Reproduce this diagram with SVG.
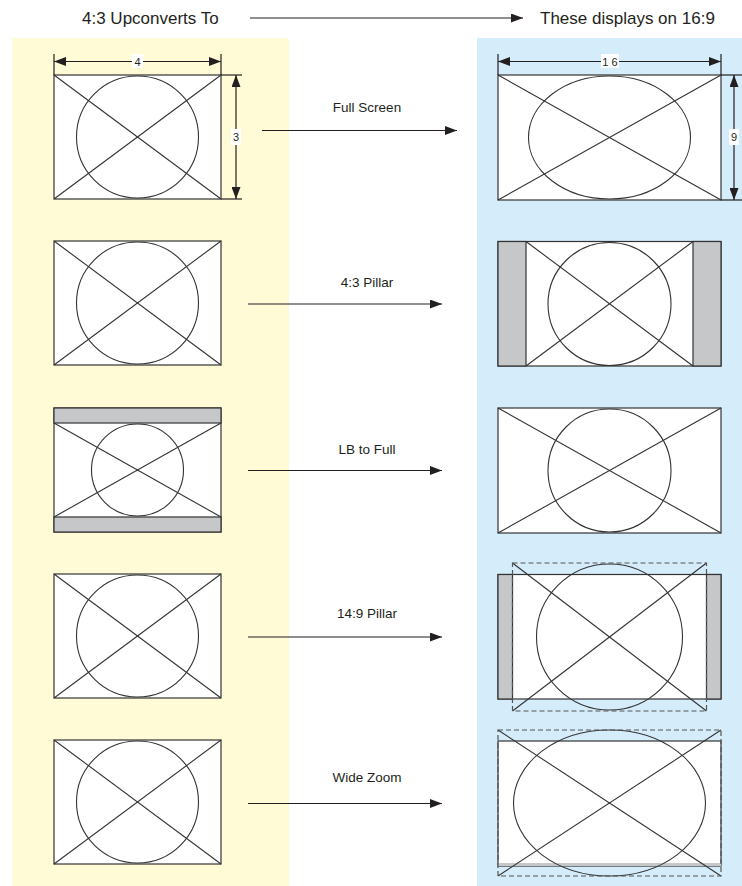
<svg xmlns="http://www.w3.org/2000/svg" width="742" height="886" viewBox="0 0 742 886">
<defs>
<style>
.t{font-family:"Liberation Sans",Arial,sans-serif;fill:#231f20}
.hdr{font-size:17px}
.lbl{font-size:13.5px;text-anchor:middle}
.dim{font-size:11px;text-anchor:middle}
.scr{fill:#ffffff;stroke:#333333;stroke-width:1.2}
.ln{fill:none;stroke:#333333;stroke-width:1.1}
.bar{fill:#c6c7c9;stroke:#333333;stroke-width:1.2}
.dash{fill:none;stroke:#555555;stroke-width:1.2;stroke-dasharray:5 3}
.con{fill:none;stroke:#231f20;stroke-width:1.2}
.dl{fill:none;stroke:#231f20;stroke-width:1.2}
</style>
<marker id="ah" viewBox="0 0 12 9" refX="12" refY="4.5" markerWidth="12" markerHeight="9" markerUnits="userSpaceOnUse" orient="auto">
<path d="M0,0 L12,4.5 L0,9 Z" fill="#231f20"/>
</marker>
<marker id="as" viewBox="0 0 12 9" refX="0" refY="4.5" markerWidth="12" markerHeight="9" markerUnits="userSpaceOnUse" orient="auto">
<path d="M12,0 L0,4.5 L12,9 Z" fill="#231f20"/>
</marker>
</defs>
<rect width="742" height="886" fill="#ffffff"/>
<g id="panels">
<rect x="12" y="38" width="277" height="848" fill="#fffbd7"/>
<rect x="477" y="38" width="265" height="848" fill="#d5ecfa"/>
</g>
<g id="header">
<text class="t hdr" x="82" y="24">4:3 Upconverts To</text>
<text class="t hdr" x="540" y="24">These displays on 16:9</text>
</g>
<g id="connectors">
<line class="con" x1="250" y1="18" x2="523" y2="18" marker-end="url(#ah)"/>
<line class="con" x1="262" y1="130.5" x2="457" y2="130.5" marker-end="url(#ah)"/>
<line class="con" x1="248" y1="304" x2="442" y2="304" marker-end="url(#ah)"/>
<line class="con" x1="248" y1="470.5" x2="442" y2="470.5" marker-end="url(#ah)"/>
<line class="con" x1="248" y1="637" x2="442" y2="637" marker-end="url(#ah)"/>
<line class="con" x1="248" y1="803.5" x2="442" y2="803.5" marker-end="url(#ah)"/>
<text class="t lbl" x="367" y="112">Full Screen</text>
<text class="t lbl" x="367" y="287">4:3 Pillar</text>
<text class="t lbl" x="367" y="454">LB to Full</text>
<text class="t lbl" x="367" y="618">14:9 Pillar</text>
<text class="t lbl" x="367" y="782">Wide Zoom</text>
</g>
<g id="src-full">
<rect class="scr" x="54" y="75" width="167" height="124"/>
<circle class="ln" cx="137.5" cy="137" r="61"/>
<line class="ln" x1="54" y1="75" x2="221" y2="199"/>
<line class="ln" x1="221" y1="75" x2="54" y2="199"/>
<line class="dl" x1="54" y1="54" x2="54" y2="75"/>
<line class="dl" x1="221" y1="54" x2="221" y2="75"/>
<line class="dl" x1="54" y1="61.5" x2="221" y2="61.5" marker-start="url(#as)" marker-end="url(#ah)"/>
<rect x="132" y="54" width="11" height="14" fill="#ffffff"/>
<text class="t dim" x="137.5" y="65.5">4</text>
<line class="dl" x1="221" y1="75" x2="242" y2="75"/>
<line class="dl" x1="221" y1="199" x2="242" y2="199"/>
<line class="dl" x1="236" y1="75" x2="236" y2="199" marker-start="url(#as)" marker-end="url(#ah)"/>
<rect x="231" y="129" width="10" height="16" fill="#ffffff"/>
<text class="t dim" x="236" y="141">3</text>
</g>
<g id="dst-full">
<rect class="scr" x="498" y="75" width="223" height="125"/>
<ellipse class="ln" cx="609.5" cy="137.5" rx="81" ry="61.5"/>
<line class="ln" x1="498" y1="75" x2="721" y2="200"/>
<line class="ln" x1="721" y1="75" x2="498" y2="200"/>
<line class="dl" x1="498" y1="54" x2="498" y2="75"/>
<line class="dl" x1="721" y1="54" x2="721" y2="75"/>
<line class="dl" x1="498" y1="61.5" x2="721" y2="61.5" marker-start="url(#as)" marker-end="url(#ah)"/>
<rect x="601" y="54" width="18" height="14" fill="#ffffff"/>
<text class="t dim" x="610" y="65.5">1 6</text>
<line class="dl" x1="721" y1="75" x2="742" y2="75"/>
<line class="dl" x1="721" y1="200" x2="742" y2="200"/>
<line class="dl" x1="734" y1="75" x2="734" y2="200" marker-start="url(#as)" marker-end="url(#ah)"/>
<rect x="729" y="129" width="10" height="16" fill="#ffffff"/>
<text class="t dim" x="734" y="141">9</text>
</g>
<g id="src-pillar">
<rect class="scr" x="54" y="241" width="167" height="124"/>
<circle class="ln" cx="137.5" cy="303" r="61"/>
<line class="ln" x1="54" y1="241" x2="221" y2="365"/>
<line class="ln" x1="221" y1="241" x2="54" y2="365"/>
</g>
<g id="dst-pillar">
<rect class="scr" x="498" y="241.5" width="223" height="124.5"/>
<rect class="bar" x="498" y="241.5" width="28" height="124.5"/>
<rect class="bar" x="693" y="241.5" width="28" height="124.5"/>
<circle class="ln" cx="609.5" cy="304" r="61.5"/>
<line class="ln" x1="526" y1="241.5" x2="693" y2="366"/>
<line class="ln" x1="693" y1="241.5" x2="526" y2="366"/>
</g>
<g id="src-lb">
<rect class="scr" x="54" y="408" width="167" height="124"/>
<rect class="bar" x="54" y="408" width="167" height="15"/>
<rect class="bar" x="54" y="517" width="167" height="15"/>
<circle class="ln" cx="137.5" cy="470" r="46"/>
<line class="ln" x1="54" y1="423" x2="221" y2="517"/>
<line class="ln" x1="221" y1="423" x2="54" y2="517"/>
</g>
<g id="dst-lb">
<rect class="scr" x="498" y="408" width="223" height="125"/>
<circle class="ln" cx="609.5" cy="470.5" r="61.5"/>
<line class="ln" x1="498" y1="408" x2="721" y2="533"/>
<line class="ln" x1="721" y1="408" x2="498" y2="533"/>
</g>
<g id="src-149">
<rect class="scr" x="54" y="574" width="167" height="124"/>
<circle class="ln" cx="137.5" cy="636" r="61"/>
<line class="ln" x1="54" y1="574" x2="221" y2="698"/>
<line class="ln" x1="221" y1="574" x2="54" y2="698"/>
</g>
<g id="dst-149">
<rect class="scr" x="498" y="574.5" width="223" height="124.5"/>
<rect class="bar" x="498" y="574.5" width="14.5" height="124.5"/>
<rect class="bar" x="706.5" y="574.5" width="14.5" height="124.5"/>
<circle class="ln" cx="609.5" cy="637" r="73"/>
<line class="ln" x1="512.5" y1="563" x2="706.5" y2="711"/>
<line class="ln" x1="706.5" y1="563" x2="512.5" y2="711"/>
<rect class="dash" x="512.5" y="563" width="194" height="148"/>
</g>
<g id="src-wide">
<rect class="scr" x="54" y="740" width="167" height="124"/>
<circle class="ln" cx="137.5" cy="802" r="61"/>
<line class="ln" x1="54" y1="740" x2="221" y2="864"/>
<line class="ln" x1="221" y1="740" x2="54" y2="864"/>
</g>
<g id="dst-wide">
<rect class="scr" x="498" y="741" width="223" height="125"/>
<rect x="498" y="863" width="223" height="3" fill="#c6c7c9"/>
<ellipse class="ln" cx="609.5" cy="803" rx="96" ry="73"/>
<line class="ln" x1="498" y1="730" x2="721" y2="876"/>
<line class="ln" x1="721" y1="730" x2="498" y2="876"/>
<rect class="dash" x="498" y="730" width="223" height="146"/>
</g>
</svg>
